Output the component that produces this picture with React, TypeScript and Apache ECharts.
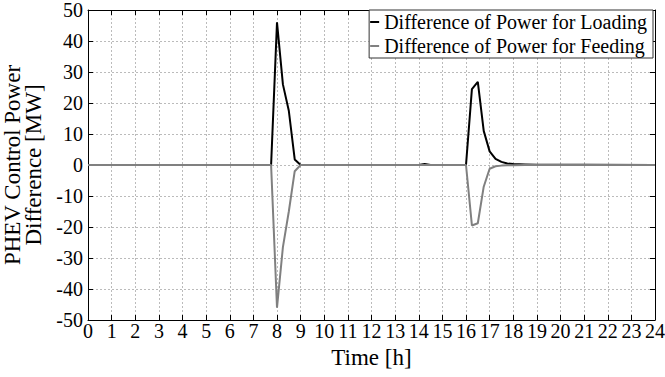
import React, { useEffect, useRef } from "react";
import * as echarts from "echarts";

const timeH = [0, 7.75, 8, 8.25, 8.5, 8.75, 9, 14, 14.25, 14.5, 16, 16.25, 16.5, 16.75, 17, 17.25, 17.5, 17.75, 18, 18.5, 19, 21, 24];
const loading = [0, 0, 46, 26, 17.5, 1.8, 0, 0, 0.3, 0, 0, 24.5, 26.8, 11, 4.4, 2, 1, 0.5, 0.3, 0.2, 0.1, 0.1, 0];
const feeding = [0, 0, -46, -26.5, -15, -2, 0, 0, 0, 0, 0, -19.5, -18.8, -7, -1.2, -0.4, -0.2, -0.1, -0.1, 0, 0, 0, 0];
const seriesNames = ["Difference of Power for Loading", "Difference of Power for Feeding"];
const xTicks = { min: 0, max: 24, interval: 1 };
const yTicks = { min: -50, max: 50, interval: 10 };

const FONT = "'Liberation Serif', 'Times New Roman', serif";

export default function App() {
  const ref = useRef<HTMLDivElement>(null);
  useEffect(() => {
    if (!ref.current) return;
    const chart = echarts.init(ref.current, null, { renderer: "svg" });
    const gridLine = { show: true, lineStyle: { color: "#bbb", type: [2, 2] as any, width: 1 } };
    const tickIn = { show: true, inside: true, length: 5, lineStyle: { color: "#000" } };
    chart.setOption({
      animation: false,
      backgroundColor: "#fff",
      grid: { left: 88, right: 10, top: 10, bottom: 57, outerBoundsMode: "none", containLabel: false },
      legend: {
        orient: "vertical",
        right: 12,
        top: 10,
        backgroundColor: "#fff",
        borderColor: "#333",
        borderWidth: 1,
        borderRadius: 0,
        padding: [2, 6, 2, 1],
        itemGap: 4,
        itemWidth: 9,
        itemHeight: 2,
        icon: "rect",
        align: "left",
        textStyle: { fontFamily: FONT, fontSize: 20, color: "#000" },
        data: seriesNames,
      },
      xAxis: [
        {
          type: "value",
          ...xTicks,
          name: "Time [h]",
          nameLocation: "middle",
          nameGap: 24,
          nameTextStyle: { fontFamily: FONT, fontSize: 23, color: "#000" },
          axisLine: { show: true, onZero: false, lineStyle: { color: "#000" } },
          axisTick: tickIn,
          axisLabel: { fontFamily: FONT, fontSize: 20, color: "#000", margin: 3, lineHeight: 16 },
          splitLine: gridLine,
        },
        {
          type: "value",
          position: "top",
          ...xTicks,
          axisLine: { show: true, onZero: false, lineStyle: { color: "#000" } },
          axisTick: tickIn,
          axisLabel: { show: false },
          splitLine: { show: false },
        },
      ],
      yAxis: [
        {
          type: "value",
          ...yTicks,
          name: "PHEV Control Power\nDifference [MW]",
          nameLocation: "middle",
          nameRotate: 90,
          nameGap: 31,
          nameTextStyle: { fontFamily: FONT, fontSize: 23, color: "#000", lineHeight: 21 },
          axisLine: { show: true, onZero: false, lineStyle: { color: "#000" } },
          axisTick: tickIn,
          axisLabel: { fontFamily: FONT, fontSize: 20, color: "#000", margin: 5, lineHeight: 16 },
          splitLine: gridLine,
        },
        {
          type: "value",
          position: "right",
          ...yTicks,
          axisLine: { show: true, onZero: false, lineStyle: { color: "#000" } },
          axisTick: tickIn,
          axisLabel: { show: false },
          splitLine: { show: false },
        },
      ],
      series: [
        {
          name: seriesNames[0],
          type: "line",
          data: timeH.map((t, i) => [t, loading[i]]),
          showSymbol: false,
          symbol: "none",
          lineStyle: { color: "#000", width: 2 },
          itemStyle: { color: "#000" },
          z: 3,
        },
        {
          name: seriesNames[1],
          type: "line",
          data: timeH.map((t, i) => [t, feeding[i]]),
          showSymbol: false,
          symbol: "none",
          lineStyle: { color: "#808080", width: 2 },
          itemStyle: { color: "#808080" },
          z: 4,
        },
      ],
    });
    return () => chart.dispose();
  }, []);
  return (
    <div
      ref={ref}
      style={{ position: "fixed", left: 0, top: 0, width: 665, height: 377 }}
    />
  );
}
